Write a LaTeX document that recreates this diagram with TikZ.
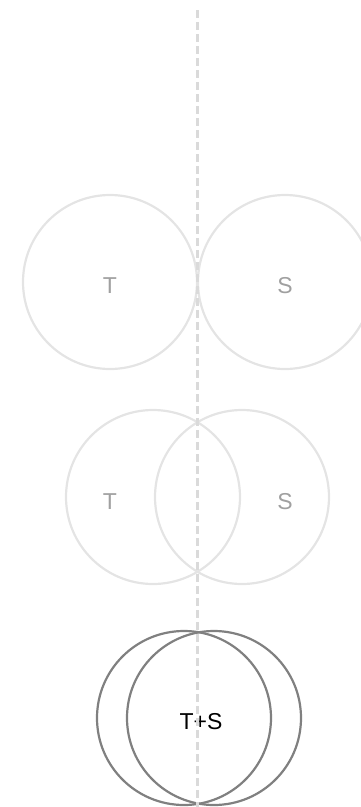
\documentclass[tikz,border=0pt]{standalone}
\usepackage{fontspec}
\setmainfont{Liberation Sans}
\definecolor{faint}{HTML}{E4E4E4}
\definecolor{labelgray}{HTML}{A0A0A0}
\definecolor{darkring}{HTML}{808080}
\definecolor{axisgray}{HTML}{DADADA}
\begin{document}
\begin{tikzpicture}[x=1pt,y=-1pt,
  ring/.style={circle,draw=faint,line width=2.2pt,minimum size=174pt,inner sep=0pt},
  darkringstyle/.style={circle,draw=darkring,line width=2.2pt,minimum size=174pt,inner sep=0pt},
  lbl/.style={text=labelgray,font=\fontsize{23}{23}\selectfont,inner sep=0pt},
  sumlbl/.style={text=black,font=\fontsize{23}{23}\selectfont,inner sep=0pt},
  axis/.style={draw=axisgray,line width=3pt,dash pattern=on 8pt off 4pt}]
\useasboundingbox (0,0) rectangle (361,807);
% row 1
\node[ring] (t1) at (110,282) {};
\node[ring] (s1) at (285,282) {};
\node[lbl] (t1l) at (110,286) {T};
\node[lbl] (s1l) at (285,286) {S};
% row 2
\node[ring] (t2) at (153,497) {};
\node[ring] (s2) at (242,497) {};
\node[lbl] (t2l) at (110,502) {T};
\node[lbl] (s2l) at (285,502) {S};
% row 3
\node[darkringstyle] (t3) at (184,718) {};
\node[darkringstyle] (s3) at (214,718) {};
\node[sumlbl] (ts) at (201,721.5) {T+S};
% axis
\coordinate (atop) at (197,10);
\coordinate (abot) at (197,807);
\draw[axis] (atop) -- (abot);
\end{tikzpicture}
\end{document}
